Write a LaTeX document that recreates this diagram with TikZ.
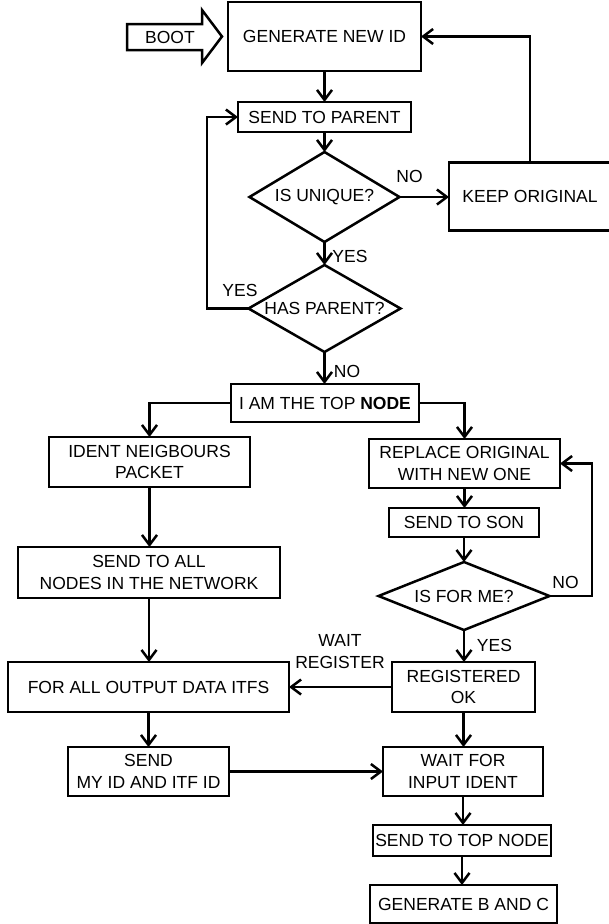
\documentclass[tikz,border=0pt]{standalone}
\usepackage{fontspec}
\setmainfont{Liberation Sans}
\usetikzlibrary{arrows.meta,shapes.geometric}
\tikzset{
  lw/.style={line width=2.5pt},
  box/.style={draw,lw,inner sep=0pt,outer sep=0pt,align=center,font=\fontsize{17.5}{21.5}\selectfont},
  dia/.style={draw,lw,diamond,inner sep=0pt,outer sep=0pt,align=center,font=\fontsize{17.5}{21.5}\selectfont},
  lbl/.style={inner sep=0pt,align=center,font=\fontsize{17.5}{21.5}\selectfont},
  arr/.style={draw,lw,-{Straight Barb[length=10pt,width=15pt]}},
  ln/.style={draw,lw}
}
\begin{document}
\begin{tikzpicture}[x=1pt,y=-1pt]
\useasboundingbox (0,0) rectangle (608,924);
% boot arrow
\draw[lw,line join=miter] (127,24) -- (202,24) -- (202,10) -- (222,36.5) -- (202,63) -- (202,50) -- (127,50) -- cycle;
\node[lbl] (boot) at (170,37) {BOOT};
% nodes
\node[box,minimum width=193pt,minimum height=69pt] (gen) at (324.5,36.5) {GENERATE NEW ID};
\node[box,minimum width=173pt,minimum height=30pt] (parent) at (324.5,117) {SEND TO PARENT};
\node[dia,aspect=1.67,minimum width=150pt,minimum height=90pt] (uniq) at (324.5,197) {IS UNIQUE?};
\node[box,minimum width=162pt,minimum height=68pt] (keep) at (530,196.5) {KEEP ORIGINAL};
\node[dia,aspect=1.75,minimum width=152pt,minimum height=87pt] (hasp) at (324.5,308.5) {HAS PARENT?};
\node[box,minimum width=188pt,minimum height=38pt] (top) at (325,403) {I AM THE TOP \textbf{NODE}};
\node[box,minimum width=201pt,minimum height=50pt] (ident) at (149.5,462) {IDENT NEIGBOURS\\PACKET};
\node[box,minimum width=262pt,minimum height=51pt] (sendall) at (149,572.5) {SEND TO ALL\\NODES IN THE NETWORK};
\node[box,minimum width=281pt,minimum height=50pt] (forall) at (148.5,687) {FOR ALL OUTPUT DATA ITFS};
\node[box,minimum width=161pt,minimum height=49pt] (sendmy) at (148.5,771.5) {SEND\\MY ID AND ITF ID};
\node[box,minimum width=191pt,minimum height=49pt] (replace) at (464.5,463.5) {REPLACE ORIGINAL\\WITH NEW ONE};
\node[box,minimum width=150pt,minimum height=29pt] (son) at (464,522.5) {SEND TO SON};
\node[dia,aspect=2.5,minimum width=171pt,minimum height=68pt] (forme) at (464,596) {IS FOR ME?};
\node[box,minimum width=143pt,minimum height=50pt] (reg) at (463.5,687) {REGISTERED\\OK};
\node[box,minimum width=160pt,minimum height=49pt] (waitfor) at (463,771.5) {WAIT FOR\\INPUT IDENT};
\node[box,minimum width=178pt,minimum height=31pt] (sendtop) at (462,840.5) {SEND TO TOP NODE};
\node[box,minimum width=187pt,minimum height=38pt] (genbc) at (463.5,904) {GENERATE B AND C};
% labels
\node[lbl] (l1) at (409.5,176) {NO};
\node[lbl] (l2) at (350,256.5) {YES};
\node[lbl] (l3) at (240,290) {YES};
\node[lbl] (l4) at (347,371) {NO};
\node[lbl] (l5) at (565.5,582) {NO};
\node[lbl] (l6) at (494.5,645.5) {YES};
\node[lbl] (l7) at (340,651.5) {WAIT\\REGISTER};
\coordinate (lp) at (207,308.5);
\coordinate (rp) at (592,596);
% connectors
\draw[arr] (gen.south) -- (gen.south |- parent.north);
\draw[arr] (parent.south) -- (parent.south |- uniq.north);
\draw[arr] (uniq.east) -- (uniq.east -| keep.west);
\draw[arr] (keep.north) |- (gen.east);
\draw[arr] (uniq.south) -- (uniq.south |- hasp.north);
\draw[arr,line join=miter] (hasp.west) -- (lp) |- (parent.west);
\draw[arr] (hasp.south) -- (hasp.south |- top.north);
\draw[arr,line join=miter] (top.west) -| (ident.north);
\draw[arr,line join=miter] (top.east) -| (replace.north);
\draw[arr] (ident.south) -- (ident.south |- sendall.north);
\draw[arr] (sendall.south) -- (sendall.south |- forall.north);
\draw[arr] (forall.south) -- (forall.south |- sendmy.north);
\draw[arr] (replace.south) -- (replace.south |- son.north);
\draw[arr] (son.south) -- (son.south |- forme.north);
\draw[arr,line join=miter] (forme.east) -- (rp) |- (replace.east);
\draw[arr] (forme.south) -- (forme.south |- reg.north);
\draw[arr] (reg.west) -- (reg.west -| forall.east);
\draw[arr] (reg.south) -- (reg.south |- waitfor.north);
\draw[arr] (sendmy.east) -- (sendmy.east -| waitfor.west);
\draw[arr] (waitfor.south) -- (waitfor.south |- sendtop.north);
\draw[arr] (sendtop.south) -- (sendtop.south |- genbc.north);
\end{tikzpicture}
\end{document}
